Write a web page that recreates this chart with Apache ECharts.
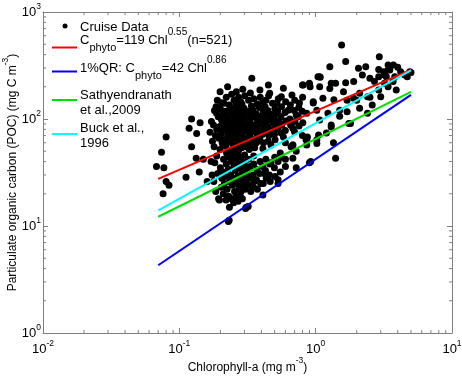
<!DOCTYPE html>
<html><head><meta charset="utf-8">
<script src="https://cdn.jsdelivr.net/npm/echarts@6/dist/echarts.min.js"></script>
<style>html,body{margin:0;padding:0;background:#fff}#c{width:462px;height:377px}</style>
</head><body><div id="c"></div>
<script>
const xAxisRange = [0.01, 10];
const yAxisRange = [1, 1000];
const xMinorTicks = [0.02,0.03,0.04,0.05,0.06,0.07,0.08,0.09,0.2,0.3,0.4,0.5,0.6,0.7,0.8,0.9,2,3,4,5,6,7,8,9];
const yMinorTicks = [2,3,4,5,6,7,8,9,20,30,40,50,60,70,80,90,200,300,400,500,600,700,800,900];
const xAxisTitle = '{n|Chlorophyll-a (mg m}{s|-3}{n|)}';
const yAxisTitle = '{n|Particulate organic carbon (POC) (mg C m}{s|-3}{n|)}';
const legendLabels = [
  'Cruise Data',
  '{n|C}{sub|phyto}{n|=119 Chl}{sup|0.55}{n|(n=521)}',
  '{n|1%QR: C}{sub|phyto}{n|=42 Chl}{sup|0.86}',
  '{m|Sathyendranath}\n{m|et al.,2009}',
  '{m|Buck et al.,}\n{m|1996}'
];
const lineColors = ['#ff0000', '#0000ff', '#00e000', '#00ffff'];
const redLine = [[0.07, 27.6], [5, 288]];
const blueLine = [[0.07, 4.3], [5, 168]];
const greenLine = [[0.07, 12.2], [5, 179]];
const cyanLine = [[0.07, 14.0], [5, 284]];
const cruiseData = [
[0.068,36],[0.074,49],[0.077,35],[0.08,26],[0.084,24],[0.076,20],[0.08,68],[0.112,28.5],[0.14,32],[0.123,55],[0.15,42],[0.16,26],[0.133,43],[0.123,100],[0.142,92],[0.118,82],[0.134,73],[0.229,11],[0.232,11.3],
[0.226,200],[0.199,180],[0.204,142],[0.186,130],[0.26,141],[0.235,121],[0.187,114],[0.34,240],[0.45,208],[0.39,187],[0.46,174],[0.58,194],[0.56,161],[0.67,168],[0.81,208],[0.91,200],[1.04,248],[0.41,145],[0.52,141],[0.76,141],[0.96,141],[0.52,113],[0.63,121],[0.72,109],[0.86,113],[0.55,91],[0.46,79],[0.39,68],[0.33,64],[0.58,68],[0.47,57],[0.41,53],[0.68,82],[1.02,64],
[0.172,95],[0.168,75],[0.175,62],
[0.181,120],[0.178,88],[0.184,70],[0.18,55],
[0.193,105],[0.188,80],[0.195,66],[0.19,150],
[0.2,125],[0.204,98],[0.198,85],[0.202,72],[0.206,60],[0.199,52],
[0.212,140],[0.208,110],[0.215,90],[0.21,78],[0.213,64],[0.209,58],
[0.221,160],[0.218,118],[0.224,100],[0.22,84],[0.226,70],[0.219,56],[0.222,48],
[0.232,135],[0.229,105],[0.235,92],[0.231,76],[0.228,62],[0.234,50],
[0.242,170],[0.238,128],[0.245,112],[0.24,96],[0.243,82],[0.239,68],[0.246,58],[0.241,45],
[0.252,150],[0.248,118],[0.255,100],[0.25,88],[0.253,74],[0.249,62],[0.256,52],
[0.262,180],[0.258,125],[0.265,106],[0.26,92],[0.263,80],[0.259,66],[0.266,56],[0.261,47],
[0.272,160],[0.268,132],[0.275,112],[0.27,96],[0.273,84],[0.269,72],[0.276,60],[0.271,50],
[0.282,145],[0.278,120],[0.285,102],[0.28,88],[0.283,76],[0.279,64],[0.286,54],[0.281,44],
[0.292,190],[0.288,138],[0.295,110],[0.29,94],[0.293,82],[0.289,70],[0.296,58],
[0.302,165],[0.298,126],[0.305,104],[0.3,90],[0.304,78],[0.299,66],[0.306,55],[0.301,46],
[0.322,150],[0.316,118],[0.325,100],[0.319,86],[0.323,74],[0.318,62],[0.326,52],
[0.332,175],[0.338,132],[0.335,108],[0.329,94],[0.334,80],[0.331,68],[0.337,57],
[0.352,155],[0.346,122],[0.355,104],[0.349,88],[0.354,76],[0.348,64],[0.357,54],[0.351,45],
[0.372,138],[0.366,112],[0.375,96],[0.369,82],[0.374,70],[0.368,60],
[0.392,160],[0.386,128],[0.395,106],[0.389,90],[0.394,76],[0.388,64],
[0.412,118],[0.406,100],[0.415,84],[0.409,72],[0.414,60],
[0.432,150],[0.426,130],[0.435,108],[0.429,92],[0.434,78],
[0.452,165],[0.446,120],[0.455,98],[0.449,84],[0.454,70],[0.448,62],
[0.482,140],[0.476,110],[0.485,92],[0.479,76],
[0.502,125],[0.496,102],[0.505,86],[0.499,72],[0.504,64],
[0.532,155],[0.526,118],[0.535,95],[0.529,80],
[0.562,130],[0.556,105],[0.565,88],[0.559,74],
[0.602,145],[0.596,115],[0.605,96],[0.599,78],
[0.652,135],[0.646,100],[0.655,88],
[0.702,150],[0.696,120],[0.705,95],[0.699,76],
[0.752,128],[0.746,105],[0.755,86],
[0.802,160],[0.796,118],[0.805,92],[0.799,70],
[0.171,40],[0.174,30],
[0.182,39],[0.179,26],[0.185,21],
[0.191,31],[0.188,45],[0.194,18],
[0.2,35],[0.203,23],[0.197,17.5],[0.205,28],
[0.211,42],[0.208,32],[0.214,25],[0.21,20],
[0.221,38],[0.218,29],[0.224,22],[0.22,17.5],
[0.231,44],[0.228,34],[0.234,26],[0.23,19],[0.233,15],
[0.241,40],[0.238,30],[0.244,24],[0.24,18],
[0.251,36],[0.248,28],[0.254,21],[0.25,16.5],
[0.261,42],[0.258,33],[0.264,25],[0.26,19],[0.263,18],
[0.271,38],[0.268,29],[0.274,23],[0.27,17],
[0.281,35],[0.278,27],[0.284,21],[0.28,19],
[0.291,40],[0.288,31],[0.294,24],[0.29,18],
[0.301,37],[0.298,28],[0.304,22],
[0.311,33],[0.308,26],[0.31,15],[0.306,14.6],
[0.321,42],[0.318,30],[0.324,24],[0.32,15.2],
[0.331,36],[0.328,28],[0.334,21],
[0.351,38],[0.348,30],[0.354,26],[0.35,23],
[0.371,34],[0.368,27],[0.374,22],
[0.391,40],[0.388,31],[0.394,25],
[0.41,36],[0.413,25],[0.41,19.5],
[0.431,42],[0.428,33],[0.434,28],
[0.461,38],[0.458,30],[0.464,26],
[0.501,44],[0.498,35],[0.504,29],
[0.53,40],[0.53,25],[0.55,32],[0.55,48],
[0.6,60],[0.6,42],[0.6,36],[0.68,43],[0.68,57],[0.72,35],[0.72,50],
[0.86,57],[0.86,64],[0.9,39],[0.92,40],[1.02,59],
[0.87,68],[0.66,55],[0.56,44],[0.47,39],[0.42,31],[0.53,27],[1.3,84],[1.2,74],
[1.55,492],[2.93,382],[1.66,344],[1.27,308],[2.06,298],[3.72,320],[2.33,308],[2.2,258],[2.5,240],[3.4,287],[3.2,258],[2.9,248],[1.07,248],[1.4,216],[1.66,218],[1.9,224],[2.7,224],[3.4,200],[3.9,187],[1.27,193],[1.07,200],[0.9,216],[1.6,180],[2.1,174],[2.4,161],[3.0,161],[1.9,156],[1.36,151],[1.13,156],[0.96,145],[2.6,135],[2.1,126],[1.7,117],[1.23,113],[1.02,121],[1.5,106],[1.8,91],[1.3,88],[1.07,98],[2.4,113],
[3.15,277],[3.5,287],[3.8,248],[4.2,277],[4.9,277],[4.7,248],[3.3,248],[3.7,224],[1.35,60],[1.4,43],[0.68,57],[0.85,64],[1.75,91],[1.05,71],
[1.08,245],[1.3,216],[0.8,208],[2.9,290],[3.4,320],[4.0,305],[5.0,272],[4.5,258],[1.7,150],[2.0,150],[1.5,121],[2.5,160],[2.9,187],[3.2,216]
];

const FF = 'Liberation Sans';
const tickRich = {
  b: {fontSize: 13, height: 20, lineHeight: 20, verticalAlign: 'top', color: '#000', fontFamily: FF},
  s: {fontSize: 8.5, height: 10, lineHeight: 20, verticalAlign: 'top', color: '#000', fontFamily: FF}
};
const nameRich = {
  n: {fontSize: 12, height: 28, lineHeight: 28, verticalAlign: 'top', color: '#000', fontFamily: FF},
  s: {fontSize: 8.5, height: 13, lineHeight: 28, verticalAlign: 'top', color: '#000', fontFamily: FF}
};
const legendRich = {
  n: {fontSize: 13, height: 32, lineHeight: 32, verticalAlign: 'top', fill: '#000', fontFamily: FF},
  sup: {fontSize: 10, height: 16, lineHeight: 32, verticalAlign: 'top', fill: '#000', fontFamily: FF},
  sub: {fontSize: 11, height: 48, lineHeight: 32, verticalAlign: 'top', fill: '#000', fontFamily: FF},
  m: {fontSize: 13, height: 15.5, lineHeight: 15.5, verticalAlign: 'top', fill: '#000', fontFamily: FF}
};
const axisGray = '#808080';

function powLabel(v) {
  const e = Math.round(Math.log10(v));
  return '{b|10}{s|' + e + '}';
}

function axisCommon(extra) {
  return Object.assign({
    type: 'log', logBase: 10,
    nameMoveOverlap: false,
    axisLine: {show: true, onZero: false, lineStyle: {color: axisGray, width: 1}},
    axisTick: {show: true, inside: true, length: 5, lineStyle: {color: axisGray, width: 1}},
    splitLine: {show: false},
    minorTick: {show: false}
  }, extra);
}

const chart = echarts.init(document.getElementById('c'), null, {renderer: 'canvas'});
const option = {
  animation: false,
  backgroundColor: '#fff',
  textStyle: {fontFamily: FF},
  grid: {left: 43, right: 10, top: 12, bottom: 44, containLabel: false, outerBoundsMode: 'none'},
  xAxis: [
    axisCommon({min: xAxisRange[0], max: xAxisRange[1], position: 'bottom',
      axisLabel: {formatter: powLabel, margin: 6, rich: tickRich},
      name: xAxisTitle, nameLocation: 'middle', nameGap: 21,
      nameTextStyle: {rich: nameRich}}),
    axisCommon({min: xAxisRange[0], max: xAxisRange[1], position: 'top',
      axisLabel: {show: false}})
  ],
  yAxis: [
    axisCommon({min: yAxisRange[0], max: yAxisRange[1], position: 'left',
      axisLabel: {formatter: powLabel, margin: 2, rich: tickRich},
      name: yAxisTitle, nameLocation: 'middle', nameGap: 16,
      nameTextStyle: {rich: nameRich}}),
    axisCommon({min: yAxisRange[0], max: yAxisRange[1], position: 'right',
      axisLabel: {show: false}})
  ],
  series: [
    {
      type: 'custom', silent: true, z: 1,
      data: xMinorTicks.map(v => [v, yAxisRange[0]]),
      renderItem: function (params, api) {
        const b = api.coord([api.value(0), yAxisRange[0]]);
        const t = api.coord([api.value(0), yAxisRange[1]]);
        return {type: 'group', children: [
          {type: 'line', shape: {x1: b[0], y1: b[1], x2: b[0], y2: b[1] - 3}, style: {stroke: axisGray, lineWidth: 1}},
          {type: 'line', shape: {x1: t[0], y1: t[1], x2: t[0], y2: t[1] + 3}, style: {stroke: axisGray, lineWidth: 1}}
        ]};
      }
    },
    {
      type: 'custom', silent: true, z: 1,
      data: yMinorTicks.map(v => [xAxisRange[0], v]),
      renderItem: function (params, api) {
        const l = api.coord([xAxisRange[0], api.value(1)]);
        const r = api.coord([xAxisRange[1], api.value(1)]);
        return {type: 'group', children: [
          {type: 'line', shape: {x1: l[0], y1: l[1], x2: l[0] + 3, y2: l[1]}, style: {stroke: axisGray, lineWidth: 1}},
          {type: 'line', shape: {x1: r[0], y1: r[1], x2: r[0] - 3, y2: r[1]}, style: {stroke: axisGray, lineWidth: 1}}
        ]};
      }
    },
    {
      name: 'Cruise Data', type: 'scatter', z: 2,
      data: cruiseData, symbol: 'circle', symbolSize: 7,
      itemStyle: {color: '#000', opacity: 1}
    },
    {type: 'line', z: 3, data: redLine, showSymbol: false, symbol: 'none', lineStyle: {color: lineColors[0], width: 2}},
    {type: 'line', z: 3, data: blueLine, showSymbol: false, symbol: 'none', lineStyle: {color: lineColors[1], width: 2}},
    {type: 'line', z: 3, data: greenLine, showSymbol: false, symbol: 'none', lineStyle: {color: lineColors[2], width: 2}},
    {type: 'line', z: 3, data: cyanLine, showSymbol: false, symbol: 'none', lineStyle: {color: lineColors[3], width: 2}}
  ],
  graphic: [
    {type: 'circle', shape: {cx: 65, cy: 26, r: 2.5}, style: {fill: '#000'}},
    {type: 'text', x: 80, y: 27, style: {text: legendLabels[0], font: '13px "Liberation Sans"', fill: '#000', verticalAlign: 'middle'}},
    {type: 'line', shape: {x1: 52, y1: 47.5, x2: 77, y2: 47.5}, style: {stroke: lineColors[0], lineWidth: 2}},
    {type: 'text', x: 80, y: 40, style: {text: legendLabels[1], rich: legendRich, verticalAlign: 'middle'}},
    {type: 'line', shape: {x1: 52, y1: 71.5, x2: 77, y2: 71.5}, style: {stroke: lineColors[1], lineWidth: 2}},
    {type: 'text', x: 80, y: 68, style: {text: legendLabels[2], rich: legendRich, verticalAlign: 'middle'}},
    {type: 'line', shape: {x1: 52, y1: 100, x2: 77, y2: 100}, style: {stroke: lineColors[2], lineWidth: 2}},
    {type: 'text', x: 80, y: 102.75, style: {text: legendLabels[3], rich: legendRich, verticalAlign: 'middle'}},
    {type: 'line', shape: {x1: 52, y1: 134, x2: 77, y2: 134}, style: {stroke: lineColors[3], lineWidth: 2}},
    {type: 'text', x: 80, y: 136, style: {text: legendLabels[4], rich: legendRich, verticalAlign: 'middle'}}
  ]
};
chart.setOption(option);
</script>
</body></html>
